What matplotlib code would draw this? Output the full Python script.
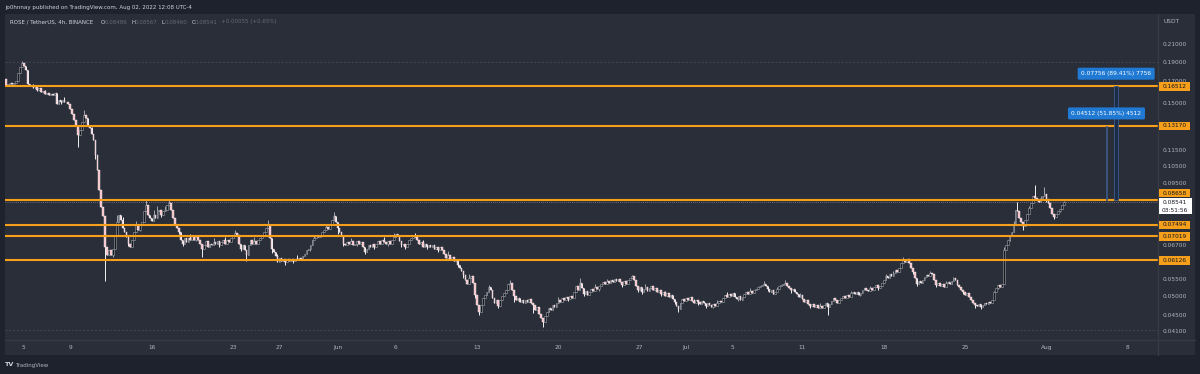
import numpy as np
import pandas as pd
import matplotlib
matplotlib.use("Agg")
import matplotlib.pyplot as plt
from matplotlib.patches import Rectangle
from matplotlib.ticker import NullLocator

# ---------------- data ----------------
start_time = "2022-05-03 12:00"
first_open = 0.1725
closes = [
    0.166, 0.167, 0.168, 0.167, 0.168, 0.170, 0.178, 0.184, 0.188, 0.185, 0.181, 0.167,
    0.165, 0.166, 0.163, 0.164, 0.162, 0.163, 0.160, 0.161, 0.158, 0.159, 0.157, 0.158, 0.157, 0.159,
    0.149, 0.153, 0.151, 0.1527, 0.151, 0.151, 0.149, 0.145, 0.141, 0.136, 0.132,
    0.125, 0.1287, 0.135, 0.140, 0.138, 0.132, 0.130, 0.126, 0.1216, 0.1116, 0.1025, 0.0914, 0.083, 0.079,
    0.066, 0.0631, 0.065, 0.063, 0.0654, 0.0708, 0.0762, 0.0793,
    0.0771, 0.0737, 0.072, 0.070, 0.0672, 0.066, 0.0688, 0.072, 0.0749, 0.0728, 0.0749, 0.076,
    0.081, 0.084, 0.0793, 0.078, 0.0767, 0.0793, 0.078, 0.081, 0.0816, 0.0793, 0.081, 0.0816, 0.084, 0.085, 0.0816,
    0.078, 0.0749, 0.0737, 0.072, 0.0688, 0.0672, 0.0696, 0.068, 0.0696, 0.0688, 0.0704, 0.0688, 0.070, 0.0688, 0.0672,
    0.0654, 0.0668, 0.0684, 0.066, 0.0672, 0.0668, 0.068, 0.0672, 0.0684, 0.0668, 0.068, 0.0688, 0.0672, 0.0688, 0.068, 0.0696, 0.0704, 0.0716, 0.0708,
    0.0672, 0.0654, 0.0668, 0.065, 0.0631, 0.0668, 0.0688, 0.0672, 0.0684, 0.0672, 0.0688, 0.0696, 0.0708, 0.072, 0.0737, 0.0749,
    0.0696, 0.0654, 0.0642, 0.0628, 0.0607, 0.0621, 0.061, 0.0617, 0.0607, 0.0617, 0.061, 0.0617, 0.061, 0.0617, 0.0614, 0.0621, 0.0617,
    0.0628, 0.0635, 0.065, 0.0654, 0.0668, 0.0688, 0.0696, 0.0704, 0.070, 0.0708, 0.072, 0.0728, 0.074, 0.0733, 0.0749, 0.0771, 0.0789,
    0.0763, 0.0737, 0.072, 0.0704, 0.0672, 0.0668, 0.068, 0.0672, 0.0684, 0.0668, 0.0672, 0.0684, 0.0672, 0.068, 0.066, 0.0642, 0.0654,
    0.0668, 0.066, 0.0672, 0.066, 0.0672, 0.0684, 0.0672, 0.0688, 0.068, 0.0672, 0.0684, 0.0672, 0.0688, 0.070, 0.0712, 0.0704, 0.0684,
    0.0668, 0.0672, 0.066, 0.0672, 0.0688, 0.0696, 0.0704, 0.070, 0.0688, 0.0672, 0.068, 0.066, 0.0672, 0.066, 0.0668, 0.066,
    0.0668, 0.0654, 0.066, 0.065, 0.066, 0.065, 0.0635, 0.0621, 0.0631, 0.0617, 0.0624, 0.061, 0.0614, 0.0597, 0.0587, 0.0577,
    0.0564, 0.0548, 0.0535, 0.0554, 0.0561, 0.0538, 0.0503, 0.0475, 0.0457, 0.0475, 0.0494, 0.0503, 0.0511, 0.0526, 0.0517, 0.0494,
    0.048, 0.0489, 0.0472, 0.0489, 0.050, 0.0508, 0.0517, 0.0535, 0.0538, 0.0517, 0.050, 0.0489, 0.0494, 0.0483, 0.0489, 0.048,
    0.0489, 0.0483, 0.0491, 0.048, 0.0475, 0.0462, 0.047, 0.0452, 0.0441, 0.0431, 0.0446, 0.0457, 0.0467, 0.0462, 0.0475, 0.047,
    0.048, 0.0489, 0.0483, 0.0494, 0.0489, 0.0497, 0.0491, 0.050, 0.0494, 0.0511, 0.0529, 0.0517, 0.0538, 0.0523, 0.0506, 0.0514,
    0.0503, 0.0511, 0.052, 0.0514, 0.0526, 0.052, 0.0529, 0.0535, 0.0541, 0.0535, 0.0544, 0.0538, 0.0548, 0.0541, 0.0551, 0.0544,
    0.0551, 0.0541, 0.0532, 0.0544, 0.0535, 0.0548, 0.0554, 0.0561, 0.0548, 0.0529, 0.0517, 0.0526, 0.0511, 0.052, 0.0526, 0.0514,
    0.0523, 0.0529, 0.0517, 0.0523, 0.0511, 0.0517, 0.0506, 0.0511, 0.050, 0.0508, 0.0497, 0.0503, 0.0491, 0.0483, 0.0472, 0.0464,
    0.048, 0.0491, 0.0486, 0.0494, 0.0489, 0.0497, 0.0486, 0.048, 0.0489, 0.0483, 0.0478, 0.0486, 0.048, 0.0472, 0.048, 0.0475,
    0.047, 0.0478, 0.0472, 0.048, 0.0486, 0.0483, 0.0494, 0.0503, 0.0497, 0.0506, 0.050, 0.0508, 0.0497, 0.0491, 0.050, 0.0489,
    0.0497, 0.0506, 0.0511, 0.0506, 0.0514, 0.0508, 0.0517, 0.052, 0.0526, 0.0529, 0.0532, 0.0535, 0.0529, 0.052, 0.0511, 0.0517,
    0.0506, 0.0511, 0.052, 0.0529, 0.0532, 0.0535, 0.0538, 0.0529, 0.0523, 0.0517, 0.052, 0.0511, 0.0506, 0.0497, 0.0503, 0.0491,
    0.0483, 0.0489, 0.0478, 0.0472, 0.0478, 0.047, 0.0475, 0.0467, 0.0472, 0.0467, 0.0475, 0.048, 0.047, 0.0478, 0.0486, 0.0494,
    0.0489, 0.048, 0.0489, 0.0494, 0.050, 0.0494, 0.0503, 0.0497, 0.0508, 0.0511, 0.0506, 0.0511, 0.0503, 0.0508, 0.0517, 0.0523,
    0.0517, 0.0514, 0.0523, 0.0517, 0.0526, 0.0532, 0.0523, 0.0529, 0.0538, 0.0548, 0.0561, 0.0554, 0.0567, 0.0561, 0.057, 0.058,
    0.0574, 0.0587, 0.0604, 0.0614, 0.0607, 0.0617, 0.0604, 0.0587, 0.0574, 0.0554, 0.0535, 0.0544, 0.0538, 0.0548, 0.0558, 0.0564,
    0.0561, 0.057, 0.0567, 0.0548, 0.0532, 0.0538, 0.0529, 0.0535, 0.0526, 0.0538, 0.0541, 0.0535, 0.0544, 0.0554, 0.0548, 0.0532,
    0.0526, 0.0517, 0.0511, 0.0503, 0.0508, 0.0497, 0.0489, 0.048, 0.0475, 0.0472, 0.0478, 0.047, 0.0475, 0.048, 0.0478, 0.0483,
    0.048, 0.0489, 0.0511, 0.0523, 0.0532, 0.0526, 0.0535, 0.065, 0.0668, 0.0688, 0.0708, 0.072, 0.0749, 0.0816, 0.081, 0.078,
    0.0763, 0.0745, 0.0771, 0.0797, 0.0825, 0.085, 0.0884, 0.0872, 0.0864, 0.0854, 0.0873, 0.0884, 0.0893, 0.0868, 0.085, 0.0825,
    0.0797, 0.0785, 0.0797, 0.081, 0.082, 0.084, 0.08541,
]
wick_high = {8: 0.1905, 14: 0.167, 20: 0.162, 26: 0.159, 30: 0.155, 40: 0.144, 44: 0.131,
             48: 0.1025, 57: 0.0793, 60: 0.0785, 67: 0.0765, 72: 0.0864, 76: 0.0815, 78: 0.0835,
             82: 0.0835, 84: 0.0864, 95: 0.0712, 107: 0.0695, 113: 0.070, 118: 0.0728, 128: 0.070,
             135: 0.0771, 140: 0.0635, 150: 0.063, 159: 0.0708, 165: 0.0752, 169: 0.0806,
             178: 0.0695, 195: 0.070, 200: 0.0716, 211: 0.0716, 215: 0.0688, 228: 0.0645,
             239: 0.0568, 249: 0.0532, 260: 0.0548, 265: 0.0495, 285: 0.0497, 296: 0.0554,
             304: 0.0535, 310: 0.0551, 323: 0.0564, 330: 0.0535, 340: 0.0515, 355: 0.0492,
             367: 0.0488, 372: 0.0511, 384: 0.0522, 391: 0.0544, 398: 0.0527, 402: 0.0548,
             410: 0.0508, 420: 0.048, 436: 0.0515, 446: 0.0528, 454: 0.0567, 458: 0.0578,
             463: 0.0624, 466: 0.0614, 477: 0.0577, 485: 0.0545, 489: 0.0558, 497: 0.0508,
             510: 0.0515, 515: 0.066, 520: 0.0765, 522: 0.0852, 528: 0.0835, 531: 0.0941,
             534: 0.0885, 536: 0.0928, 540: 0.0815, 546: 0.0857}
wick_low = {16: 0.1605, 28: 0.1495, 37: 0.117, 46: 0.109, 51: 0.0546, 55: 0.0625, 63: 0.0664,
            69: 0.0722, 80: 0.0785, 89: 0.0712, 91: 0.0664, 98: 0.0682, 101: 0.0624, 110: 0.066,
            121: 0.0645, 124: 0.0611, 130: 0.0678, 137: 0.064, 144: 0.0597, 148: 0.0605,
            157: 0.0645, 171: 0.0712, 174: 0.0664, 181: 0.0665, 185: 0.0636, 190: 0.0652,
            197: 0.0665, 204: 0.066, 206: 0.0652, 217: 0.0652, 223: 0.0642, 233: 0.059,
            236: 0.0555, 242: 0.0495, 244: 0.0449, 254: 0.0466, 262: 0.0482, 272: 0.0455,
            277: 0.0420, 282: 0.0462, 290: 0.0485, 298: 0.0500, 306: 0.0515, 318: 0.0525,
            326: 0.0512, 328: 0.0505, 338: 0.050, 345: 0.0478, 347: 0.0457, 357: 0.0476,
            361: 0.0466, 365: 0.0466, 378: 0.0485, 393: 0.0515, 405: 0.051, 415: 0.0466,
            424: 0.0449, 431: 0.0488, 441: 0.0500, 450: 0.0518, 468: 0.0568, 470: 0.0530,
            480: 0.0527, 494: 0.0505, 500: 0.0468, 503: 0.0465, 512: 0.0520, 518: 0.0685,
            525: 0.0728, 537: 0.0855, 541: 0.0775, 544: 0.0808}

levels = [0.16512, 0.13170, 0.08658, 0.07494, 0.07019, 0.06126]
price_ticks = [0.21, 0.19, 0.17, 0.15, 0.115, 0.105, 0.095, 0.067, 0.055, 0.05, 0.045, 0.041]
date_ticks = ["2022-05-05", "2022-05-09", "2022-05-16", "2022-05-23", "2022-05-27", "2022-06-01",
              "2022-06-06", "2022-06-13", "2022-06-20", "2022-06-27", "2022-07-01", "2022-07-05",
              "2022-07-11", "2022-07-18", "2022-07-25", "2022-08-01", "2022-08-08"]
date_labels = ["5", "9", "16", "23", "27", "Jun", "6", "13", "20", "27", "Jul", "5", "11", "18",
               "25", "Aug", "8"]
guide_lines = [0.189, 0.0413]
measure_base = 0.08658
measure_tops = [0.13170, 0.16512]
measure_times = ["2022-08-06 04:00", "2022-08-07 00:00"]
measure_labels = ["0.04512 (51.85%) 4512", "0.07756 (89.41%) 7756"]
last_price = 0.08541
countdown = "03:51:56"
header = "jo0hnnay published on TradingView.com, Aug 02, 2022 12:08 UTC-4"
title = "ROSE / TetherUS, 4h, BINANCE"
ohlc = [("O", "0.08486"), ("H", "0.08567"), ("L", "0.08460"), ("C", "0.08541")]
change = "+0.00055 (+0.65%)"

# ---------------- layout ----------------
W, H = 1200, 374
BG_OUT = "#1e222d"
BG = "#2a2e39"
ORANGE = "#f59f1a"
TXT = "#b2b5be"
FS = 4.2
FSH = 4.0

plt.rcParams["font.family"] = ["DejaVu Sans"]
fig = plt.figure(figsize=(W / 100, H / 100), dpi=100, facecolor=BG_OUT)


def fx(px):
    return px / W


def fy(py):
    return 1 - py / H


fig.patches.append(Rectangle((fx(5), fy(355)), fx(1190), (355 - 14) / H,
                             transform=fig.transFigure, fc=BG, ec="none", zorder=-5))

ax = fig.add_axes([fx(5), fy(340), fx(1153), (340 - 14) / H])
ax.set_facecolor(BG)
ax.set_yscale("log")
ax.set_ylim(0.03892, 0.2491)
ax.set_xlim(-0.67, 594.6)
for s in ax.spines.values():
    s.set_visible(False)

start = pd.Timestamp(start_time)
step = pd.Timedelta("4h")
n = len(closes)
x = np.arange(n)
c = np.array(closes)
o = np.concatenate([[first_open], c[:-1]])
top = np.maximum(o, c)
bot = np.minimum(o, c)
hi = top.copy()
lo = bot.copy()
for k, v in wick_high.items():
    hi[k] = max(hi[k], v)
for k, v in wick_low.items():
    lo[k] = min(lo[k], v)
up = c >= o

UP_FACE, UP_EDGE = "#17191f", "#a3a6ae"
DN_FACE, DN_EDGE = "#f6bfc5", "#f2f2f4"

ax.vlines(x[up], lo[up], hi[up], color=UP_EDGE, lw=0.7, zorder=3)
ax.vlines(x[~up], lo[~up], hi[~up], color=DN_EDGE, lw=0.7, zorder=3)
ax.bar(x[up], np.maximum(top - bot, 2e-5)[up], bottom=bot[up], width=0.85,
       color=UP_FACE, edgecolor=UP_EDGE, lw=0.4, zorder=4)
ax.bar(x[~up], np.maximum(top - bot, 2e-5)[~up], bottom=bot[~up], width=0.85,
       color=DN_FACE, edgecolor=DN_EDGE, lw=0.3, zorder=4)

for g in guide_lines:
    ax.axhline(g, color="#434753", lw=0.7, ls=(0, (2, 2)), zorder=1)
ax.axhline(last_price, color="#80838d", lw=0.6, ls=(0, (1, 1.5)), zorder=2)
for lv in levels:
    ax.axhline(lv, color=ORANGE, lw=1.5, zorder=5)

# measurement tool
for t, mtop, lab, wd in zip(measure_times, measure_tops, measure_labels, [0.9, 1.8]):
    xi = (pd.Timestamp(t) - start) / step
    ax.add_patch(Rectangle((xi - wd / 2, measure_base), wd, mtop - measure_base,
                           fc="#1b2c48", ec="#3e5d88", lw=0.6, zorder=6, clip_on=False))
    ax.annotate(lab, xy=(xi, mtop), xytext=(0, 12.5), textcoords="offset pixels",
                ha="center", va="center", fontsize=FS, color="white", zorder=8,
                bbox=dict(boxstyle="round,pad=0.6,rounding_size=0.25", fc="#2079d2", ec="none"))

# axes ticks
ax.yaxis.tick_right()
ax.set_yticks(price_ticks)
ax.set_yticklabels([f"{v:.5f}" for v in price_ticks])
ax.yaxis.set_minor_locator(NullLocator())
ax.tick_params(axis="y", length=0, pad=3.6, labelsize=FS, labelcolor=TXT)
xt = [(pd.Timestamp(d) - start) / step for d in date_ticks]
ax.set_xticks(xt)
ax.set_xticklabels(date_labels)
ax.xaxis.set_minor_locator(NullLocator())
ax.tick_params(axis="x", length=0, pad=3.3, labelsize=FS, labelcolor=TXT)

# dividers
fig.add_artist(plt.Line2D([fx(1158), fx(1158)], [fy(14), fy(355)], color="#363a45", lw=1.0,
                          transform=fig.transFigure, zorder=2))
fig.add_artist(plt.Line2D([fx(5), fx(1195)], [fy(340), fy(340)], color="#363a45", lw=1.0,
                          transform=fig.transFigure, zorder=2))


def price_py(p):
    return H - ax.transData.transform((0, p))[1]


# orange price labels on the axis
for lv in levels:
    py = price_py(lv)
    if abs(lv - 0.08658) < 1e-6:
        py -= 6.5
    fig.patches.append(Rectangle((fx(1159), fy(py + 4.3)), fx(31), 8.6 / H, transform=fig.transFigure,
                                 fc=ORANGE, ec="none", zorder=10))
    fig.text(fx(1174.5), fy(py), f"{lv:.5f}", fontsize=FS, color="#131722", ha="center",
             va="center", zorder=11)

# current price label
py = price_py(last_price)
fig.patches.append(Rectangle((fx(1159), fy(214)), fx(33), 15.5 / H, transform=fig.transFigure,
                             fc="#ffffff", ec="none", zorder=10))
fig.text(fx(1175), fy(py + 0.8), f"{last_price:.5f}", fontsize=FS, color="#131722", ha="center",
         va="center", zorder=11)
fig.text(fx(1175), fy(py + 8.3), countdown, fontsize=FS, color="#131722", ha="center",
         va="center", zorder=11)

# header texts
fig.text(fx(5), fy(7), header, fontsize=FSH, color="#d1d4dc", ha="left", va="center")
fig.text(fx(10), fy(22), title, fontsize=FSH, color="#d1d4dc", ha="left", va="center")
for (letter, val), px in zip(ohlc, [101, 131.5, 161.5, 191.5]):
    fig.text(fx(px), fy(22), letter, fontsize=FSH, color="#d1d4dc", ha="left", va="center")
    fig.text(fx(px + 3.6), fy(22), val, fontsize=FSH, color="#676a75", ha="left", va="center")
fig.text(fx(221), fy(22), change, fontsize=FSH, color="#676a75", ha="left", va="center")
fig.text(fx(1163), fy(21.5), "USDT", fontsize=FS, color=TXT, ha="left", va="center")

# footer logo
fig.text(fx(5), fy(365), "TV", fontsize=FSH + 0.6, color="#d1d4dc", ha="left", va="center",
         fontweight="bold")
fig.text(fx(15), fy(365), "TradingView", fontsize=FSH, color="#b2b5be", ha="left", va="center")

fig.savefig("out.png", dpi=100, facecolor=BG_OUT)
